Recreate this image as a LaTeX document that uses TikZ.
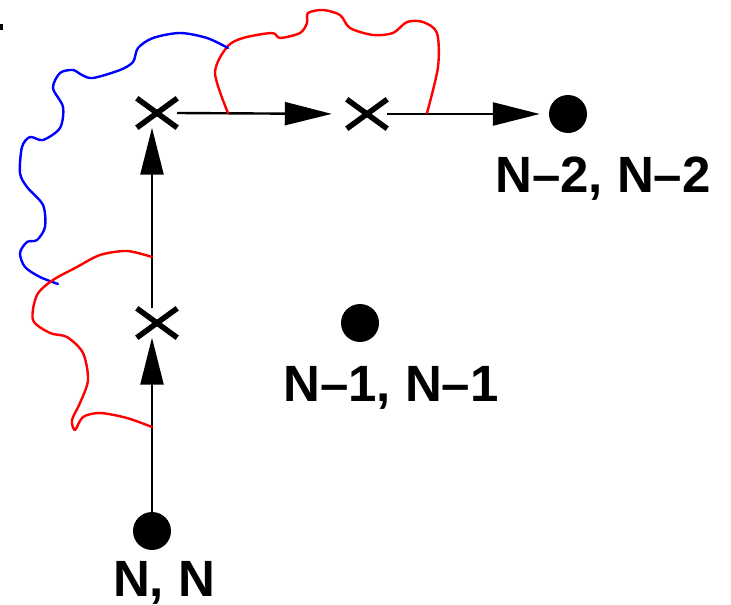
\documentclass[tikz,border=0pt]{standalone}
\usepackage{fontspec}
\setmainfont{Liberation Sans}
\usetikzlibrary{arrows.meta}
\tikzset{
  dotnode/.style={circle,fill=black,minimum size=38pt,inner sep=0pt},
  xmark/.style={rectangle,minimum width=40pt,minimum height=29pt,inner sep=0pt},
  xline/.style={line width=5.5pt},
  conn/.style={line width=2.4pt,-{Triangle[length=47pt,width=23pt]}},
  lbl/.style={font=\bfseries\fontsize{51}{60}\selectfont,anchor=base,inner sep=0pt},
  wiggle/.style={line width=2.4pt,line cap=round,line join=round}
}
\begin{document}
\begin{tikzpicture}[x=1pt,y=-1pt]
\useasboundingbox (0,0) rectangle (731,605);
% nodes
\node[dotnode] (nn) at (152,531) {};
\node[dotnode] (n1) at (360,323) {};
\node[dotnode] (n2) at (568,114) {};
\node[xmark] (xa) at (157,323) {};
\node[xmark] (xb) at (157,113) {};
\node[xmark] (xc) at (367,114) {};
\foreach \x in {xa,xb,xc}{
  \draw[xline] (\x.north west) -- (\x.south east);
  \draw[xline] (\x.south west) -- (\x.north east);
}
\node[lbl] (lnn) at (164,596) {N, N};
\node[lbl] (ln1) at (391,401) {N–1, N–1};
\node[lbl] (ln2) at (603,192) {N–2, N–2};
% connectors
\draw[conn] (nn.north) -- (nn.north |- xa.south);
\draw[conn] (nn.north |- xa.north) -- (nn.north |- xb.south);
\draw[conn,shorten >=15pt] (xb.east) -- (xc.west);
\draw[conn,shorten >=9pt] (xc.east) -- (n2.west);
% wiggly lines
\draw[wiggle,red] plot[smooth] coordinates {(228,113) (215,73) (227,47) (243,38) (272,33) (280,38) (300,33) (307,23) (308,13) (323,10) (340,15) (350,28) (373,35) (393,33) (407,22) (423,22) (437,33) (438,67) (427,113)};
\draw[wiggle,blue] plot[smooth] coordinates {(228,48) (207,38) (180,33) (153,38) (138,48) (133,62) (120,70) (93,78) (82,75) (73,70) (60,73) (53,88) (63,107) (60,128) (43,140) (30,137) (22,147) (20,173) (27,187) (43,205) (45,227) (37,240) (27,242) (20,253) (25,267) (40,277) (58,284)};
\draw[wiggle,red] plot[smooth] coordinates {(152,257) (127,251) (100,255) (77,267) (53,280) (37,295) (33,320) (50,333) (67,337) (83,353) (88,380) (80,403) (72,420) (75,430) (83,417) (100,413) (127,418) (152,427)};
\fill[black] (0,24) rectangle (3,30);
\end{tikzpicture}
\end{document}
